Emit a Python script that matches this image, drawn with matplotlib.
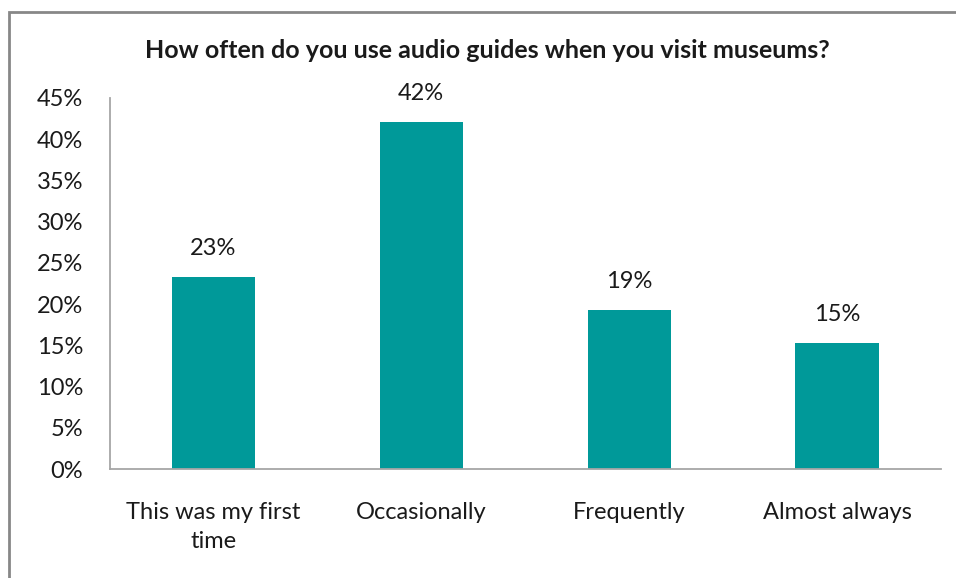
import matplotlib
matplotlib.use("Agg")
import matplotlib.pyplot as plt
from matplotlib.patches import Rectangle
from matplotlib.ticker import PercentFormatter

# Survey answers and shares of respondents
categories = ["This was my first\ntime", "Occasionally", "Frequently", "Almost always"]
shares = [0.233, 0.421, 0.193, 0.153]
y_ticks = [0.0, 0.05, 0.10, 0.15, 0.20, 0.25, 0.30, 0.35, 0.40, 0.45]
title = "How often do you use audio guides when you visit museums?"

BAR_COLOR = "#009999"
AXIS_GREY = "#a6a6a6"
FRAME_GREY = "#878787"
TEXT = "#1a1a1a"

plt.rcParams["font.family"] = ["Lato", "DejaVu Sans"]

W, H = 956, 578
fig = plt.figure(figsize=(W / 100, H / 100), dpi=100)
fig.patch.set_facecolor("white")

# outer chart frame (runs off the right and bottom edges)
fig.patches.append(Rectangle((9 / W, -0.05), 1.1, (H - 12) / H + 0.05,
                             transform=fig.transFigure, fill=False,
                             edgecolor=FRAME_GREY, linewidth=2.0))

ax = fig.add_axes([109.5 / W, (H - 469) / H, (941 - 109.5) / W, (469 - 98) / H])
x = range(len(categories))
bars = ax.bar(x, shares, width=0.4, color=BAR_COLOR)

for bar, v in zip(bars, shares):
    ax.annotate(f"{v:.0%}", (bar.get_x() + bar.get_width() / 2, v),
                xytext=(0, 13), textcoords="offset points",
                ha="center", va="bottom", fontsize=17, color=TEXT)

ax.set_xlim(-0.5, len(categories) - 0.5)
ax.set_ylim(0, 0.45)
ax.set_yticks(y_ticks)
ax.yaxis.set_major_formatter(PercentFormatter(1.0, decimals=0))
ax.set_xticks(list(x))
ax.set_xticklabels(categories, linespacing=1.45)
ax.tick_params(axis="both", length=0, labelsize=17, colors=TEXT)
ax.tick_params(axis="y", pad=19)
ax.tick_params(axis="x", pad=24)

for side in ("top", "right"):
    ax.spines[side].set_visible(False)
for side in ("left", "bottom"):
    ax.spines[side].set_color(AXIS_GREY)
    ax.spines[side].set_linewidth(1.3)

fig.text(487 / W, 1 - 58 / H, title, ha="center", va="baseline",
         fontsize=18, fontweight="bold", color=TEXT)

fig.savefig("out.png", dpi=100)
